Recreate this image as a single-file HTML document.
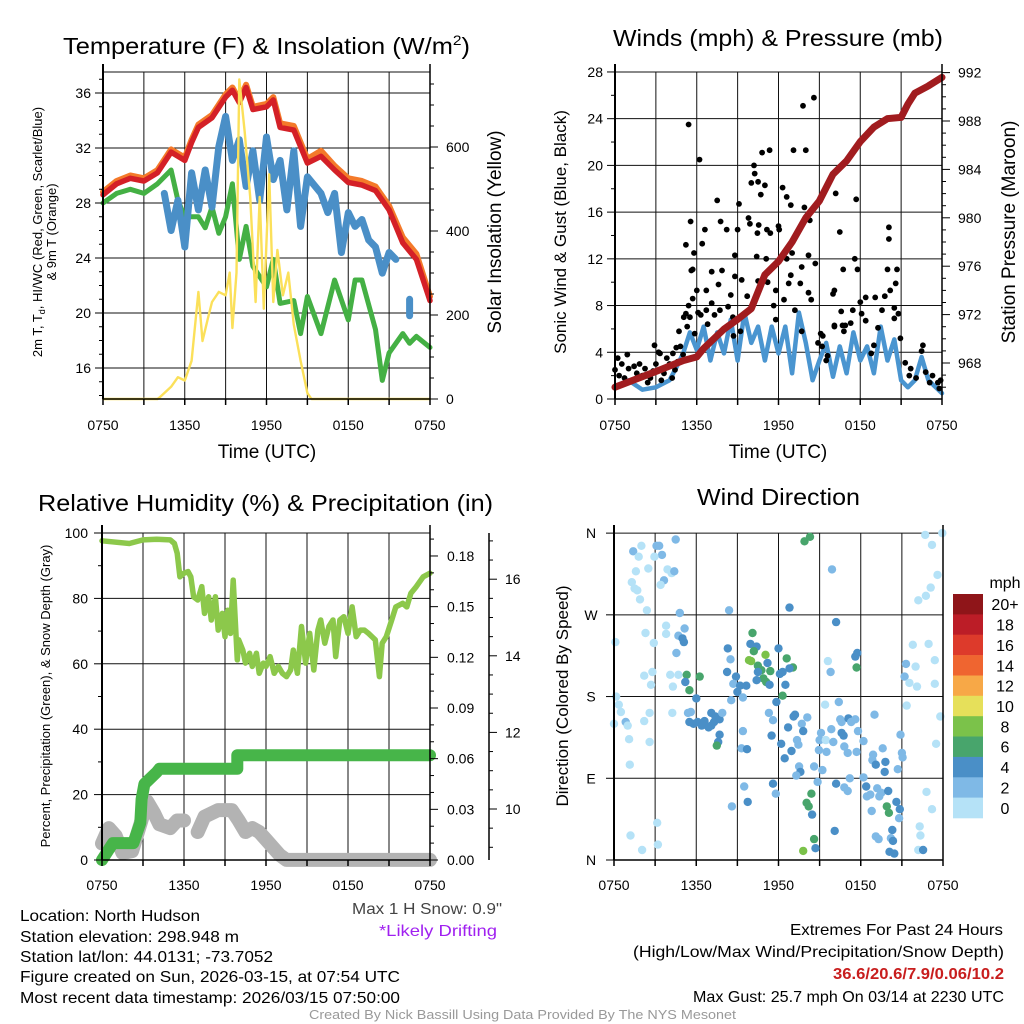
<!DOCTYPE html>
<html><head><meta charset="utf-8"><title>Mesonet Station Meteogram</title>
<style>
html,body{margin:0;padding:0;background:#fff;}
svg{display:block;font-family:"Liberation Sans Narrow","Liberation Sans",sans-serif;}
</style></head>
<body>
<svg id="chart" width="1024" height="1024" viewBox="0 0 1024 1024" xmlns="http://www.w3.org/2000/svg">
<rect width="1024" height="1024" fill="#fff"/>
<g id="g1"></g>
<g id="g2"></g>
<g id="g3"></g>
<g id="g4"></g>
<g id="gt">
<text x="63" y="54" font-size="23" textLength="407" lengthAdjust="spacingAndGlyphs">Temperature (F) &amp; Insolation (W/m<tspan font-size="14" dy="-9">2</tspan><tspan dy="9">)</tspan></text>
<text x="613" y="46" font-size="23" textLength="330" lengthAdjust="spacingAndGlyphs">Winds (mph) &amp; Pressure (mb)</text>
<text x="38" y="511" font-size="23" textLength="455" lengthAdjust="spacingAndGlyphs">Relative Humidity (%) &amp; Precipitation (in)</text>
<text x="697" y="505" font-size="23" textLength="163" lengthAdjust="spacingAndGlyphs">Wind Direction</text>
<text x="20" y="921" font-size="16" textLength="180" lengthAdjust="spacingAndGlyphs">Location: North Hudson</text>
<text x="20" y="942" font-size="16" textLength="219" lengthAdjust="spacingAndGlyphs">Station elevation: 298.948 m</text>
<text x="20" y="962" font-size="16" textLength="253" lengthAdjust="spacingAndGlyphs">Station lat/lon: 44.0131; -73.7052</text>
<text x="20" y="982" font-size="16" textLength="380" lengthAdjust="spacingAndGlyphs">Figure created on Sun, 2026-03-15, at 07:54 UTC</text>
<text x="20" y="1003" font-size="16" textLength="380" lengthAdjust="spacingAndGlyphs">Most recent data timestamp: 2026/03/15 07:50:00</text>
<text x="352" y="914" font-size="16" fill="#444" textLength="150" lengthAdjust="spacingAndGlyphs">Max 1 H Snow: 0.9"</text>
<text x="379" y="936" font-size="16" fill="#a020f0" textLength="118" lengthAdjust="spacingAndGlyphs">*Likely Drifting</text>
<text x="790" y="935" font-size="16" textLength="213" lengthAdjust="spacingAndGlyphs">Extremes For Past 24 Hours</text>
<text x="633" y="957" font-size="16" textLength="371" lengthAdjust="spacingAndGlyphs">(High/Low/Max Wind/Precipitation/Snow Depth)</text>
<text x="833" y="979" font-size="16" font-weight="bold" fill="#c81e1e" textLength="171" lengthAdjust="spacingAndGlyphs">36.6/20.6/7.9/0.06/10.2</text>
<text x="693" y="1002" font-size="16" textLength="311" lengthAdjust="spacingAndGlyphs">Max Gust: 25.7 mph On 03/14 at 2230 UTC</text>
<text x="309" y="1019" font-size="13" fill="#999" textLength="427" lengthAdjust="spacingAndGlyphs">Created By Nick Bassill Using Data Provided By The NYS Mesonet</text>
</g>
</svg>
<script>
// ---------- DATA ----------
const xTickLabels = ["0750","1350","1950","0150","0750"];
// Temperature panel (hours since 0750)
const tempHours = [0,1,2,3,4,5,6,6.5,7,8,9,9.5,10,10.5,11,12,12.5,13,14,15,16,17,18,19,20,21,22,23,24];
const tempRed   = [28.6,29.4,29.8,29.6,30.2,31.7,31.1,32.4,33.5,34.2,35.7,36.2,35.3,36.4,34.8,35.0,35.5,33.5,33.3,30.9,31.4,30.4,29.5,29.3,28.9,27.5,25.1,23.9,20.9];
const temp9m    = [28.8,29.6,30.0,29.8,30.4,31.9,31.3,32.6,33.7,34.4,35.9,36.4,35.5,36.6,35.0,35.2,35.7,33.8,33.6,31.2,31.8,30.7,29.8,29.6,29.2,27.8,25.5,24.3,21.2];
const dewHours  = [0,1,2,3,4,5,5.5,6,7,7.5,8,8.5,9,9.5,10,10.5,11,12,12.5,13,14,14.5,15,16,17,18,18.5,19,20,20.5,21,22,22.5,23,24];
const dewVals   = [28.0,28.7,29.0,28.7,29.4,30.4,28.2,27.0,27.0,26.2,27.7,25.8,27.0,29.4,23.9,26.3,23.4,21.9,23.9,20.7,20.9,18.5,21.2,18.5,22.4,19.5,22.4,22.4,18.8,15.1,17.1,18.5,17.8,18.3,17.5];
const wcHours   = [4.5,5,5.5,6,6.5,7,7.5,8,8.5,9,9.5,10,10.5,11,11.5,12,12.5,13,13.5,14,14.5,15,16,16.5,17,17.5,18,18.5,19,19.5,20,20.5,21,21.5];
const wcVals    = [28.7,26.0,28.2,24.8,30.2,27.5,30.4,27.7,32.1,34.3,31.1,32.6,29.2,31.8,28.2,32.8,29.7,31.1,27.5,31.8,26.3,29.9,28.7,27.3,28.7,24.4,27.3,26.3,26.8,25.3,24.8,22.9,24.4,23.9];
const wc2Hours  = [22.5,22.5];
const wc2Vals   = [21.0,19.8];
const solarHours= [0,4,4.2,5,5.5,6,6.5,7,7.3,7.7,8,8.5,9,9.3,9.5,9.8,10,10.4,10.8,11.2,11.5,11.8,12.2,12.5,12.8,13.2,13.6,14,14.5,15,15.3,24];
const solarVals = [0,0,5,29,52,44,91,255,138,192,231,255,247,301,169,301,761,636,481,231,481,215,535,231,355,247,301,177,91,14,0,0];
// Wind panel
const windHours = [0,1,2,3,4,4.5,5,5.5,6,6.5,7,7.5,8,8.5,9,9.5,10,10.5,11,11.5,12,12.5,13,13.5,14,14.5,15,15.5,16,16.5,17,17.5,18,18.5,19,19.5,20,20.5,21,21.5,22,22.5,23,24];
const windVals  = [1.0,1.6,0.8,1.0,1.6,2.7,3.9,5.7,4.2,6.2,3.3,5.7,3.9,6.8,3.3,7.4,4.8,6.2,3.3,6.2,3.9,6.2,2.2,7.4,4.8,1.6,3.3,4.8,1.9,4.5,2.2,5.7,3.3,4.5,2.2,6.2,3.3,5.1,1.6,1.0,1.6,3.6,1.6,0.5];
const presHours = [0,3,5,6,6.5,8,9,10,11,12,13,14,15,16,17,18,19,20,21,21.5,22,23,24];
const presVals  = [966.0,967.3,968.2,968.5,969.2,970.8,971.6,972.5,975.3,976.4,978.0,980.0,981.4,983.6,984.7,986.3,987.5,988.2,988.3,989.4,990.3,990.9,991.6];
const gustHours = [0,0.2,0.3,0.5,0.7,0.9,1,1.2,1.4,1.6,1.8,2,2.2,2.4,2.6,2.8,3,3.2,3.4,3.6,3.8,4,4.2,4.4,4.6,4.8,5,5.2,5.3,5.5,5.4,5.6,5.7,5.4,6.2,5.55,5.7,5.2,5.8,6.4,6.6,6.0,6.7,7.1,7.1,7.5,7.75,7.85,7.6,8.2,8.5,8.8,9.1,9.0,8.8,9.3,9.7,9.8,9.9,10.2,10.25,10.0,10.5,11.0,10.7,10.8,11.35,10.45,10.55,10.5,10.4,11.15,11.4,11.1,11.2,11.8,12.3,12.6,12.9,12.0,12.05,12.6,13.0,12.9,12.75,12.4,13.1,13.8,14.0,14.6,13.9,14.3,14.2,13.7,13.6,14.2,14.4,14.7,11.65,11.8,13.2,15.1,15.2,15.5,15.6,16.0,16.1,16.2,16.5,16.75,16.6,16.7,16.1,16.9,17.3,17.45,17.6,17.8,17.7,18.0,18.4,18.1,18.4,18.8,19.0,19.3,19.6,19.1,19.8,20.0,20.1,20.1,20.2,20.7,20.6,20.5,20.8,20.95,20.5,21.3,21.7,22.1,22.6,22.5,22.8,23.3,23.7,23.9,23.1,21.6,23.8,14.9,15.25,16.8,16.1,13.7,8.7,9.2,4.25,4.5,4.7,5.05,2.9,3.3,4.0,6.3,6.7,6.1,7.3,7.7,8.3,8.65,5.85,6.8];
const gustVals  = [2.5,3.5,2.0,3.0,1.8,3.8,2.6,1.5,2.8,2.2,3.0,2.0,2.6,1.4,1.8,2.4,3.0,4.0,1.6,2.2,3.5,2.8,1.8,2.5,3.2,4.5,3.8,7.3,6.2,7.0,8.0,11.0,8.6,23.5,20.5,15.2,11.1,13.2,12.5,13.3,14.5,9.3,9.3,8.2,10.9,17.0,15.2,11.0,9.8,14.5,8.9,12.3,16.7,14.5,10.5,10.2,8.8,15.5,15.0,20.0,19.3,18.5,18.6,18.3,17.5,21.1,21.3,14.2,14.9,10.1,12.2,14.5,14.2,12.0,10.0,9.3,18.1,17.3,16.6,14.8,14.5,12.0,12.5,10.6,9.9,8.5,21.3,25.1,21.3,25.8,16.4,15.3,12.3,11.3,9.9,9.1,8.5,11.6,8.0,6.8,7.6,5.6,4.5,3.3,3.7,9.0,9.3,17.6,14.3,11.1,7.5,6.3,6.3,6.3,6.5,7.6,12.0,11.1,17.1,8.3,8.7,7.3,6.7,3.9,4.6,6.1,7.6,8.7,8.8,11.1,13.7,14.7,9.3,11.1,9.9,7.8,7.3,5.2,6.9,3.1,2.6,1.8,4.6,4.1,2.3,2.0,1.4,1.6,1.4,2.0,0.9,4.8,5.4,5.8,6.2,5.8,5.4,5.8,3.9,4.4,5.8,7.0,4.6,3.9,3.0,7.2,7.6,7.4,7.2,7.6,7.9,7.0,5.6,6.4];
// Humidity panel
const rhHours = [0,2,3,4,5,5.3,5.5,5.7,6,6.3,6.5,6.7,7,7.3,7.5,7.8,8,8.3,8.5,8.8,9,9.2,9.4,9.6,9.9,10,10.3,10.5,10.8,11,11.3,11.5,11.8,12,12.3,12.6,12.9,13.2,13.5,13.8,14,14.3,14.6,14.9,15.2,15.5,15.8,16,16.3,16.6,16.9,17.1,17.4,17.7,18,18.3,18.6,18.9,19.2,19.5,20,20.3,20.5,20.8,21.2,21.5,22,22.3,22.6,23,23.5,24];
const rhVals  = [97.6,96.8,97.9,98.1,97.9,96.8,93.8,86.6,87.7,88.2,86.6,80.5,79.5,83.6,75.4,80.5,73.4,80.5,70.3,75.4,68.3,76.4,69.3,85.6,61.2,67.3,64.2,60.2,63.2,59.2,63.2,57.1,60.2,59.2,62.2,57.1,59.2,57.1,56.1,58.1,64.2,57.1,71.4,60.2,69.3,58.1,70.3,73.4,66.3,71.4,73.4,62.2,73.4,74.4,69.3,77.4,68.3,70.3,70.3,69.3,67.3,56.1,66.3,68.3,73.4,77.4,78.5,77.4,81.6,83.6,86.6,87.7];
const precipHours = [0,0.8,2.3,2.8,2.9,3.1,4.0,4.2,9.9,9.9,24];
const precipVals  = [0,0.01,0.01,0.022,0.036,0.045,0.052,0.054,0.054,0.062,0.062];
const snowHoursA = [0,0.5,1,1.5,2.2,2.8,3.3,3.8,4.2,5,5.5,6];
const snowValsA  = [9.1,9.5,9.3,8.85,8.9,9.6,10.2,9.9,9.6,9.5,9.7,9.7];
const snowHoursB = [7,7.5,8.5,9.5,10,10.5,11,11.5,12,12.5,13,13.5,24];
const snowValsB  = [9.4,9.8,9.97,9.97,9.7,9.4,9.5,9.4,9.2,9.0,8.8,8.67,8.67];
// Wind direction panel: hour, direction (deg), speed (mph)
const dirHours = [
4.5,2.0,1.4,1.8,3.1,3.3,3.5,2.95,2.5,1.6,
3.9,4.2,4.4,3.65,3.4,1.3,1.5,1.7,1.9,2.4,
4.8,8.4,12.8,16.2,13.9,14.3,15.9,22.7,23.95,23.2,
23.6,23.1,22.75,22.2,0.1,2.3,2.9,3.8,3.8,4.7,
5.0,5.1,5.15,4.55,2.2,2.8,2.7,4.1,4.7,4.3,
5.3,6.25,5.5,5.2,6.0,8.3,8.5,8.25,8.9,8.7,
9.2,9.0,9.4,8.55,9.65,10.1,9.95,10.4,10.2,10.0,
9.85,11.05,10.5,10.75,10.5,11.2,11.4,10.9,11.1,10.4,
11.35,12.0,12.6,13.05,12.8,12.3,12.1,12.5,12.3,11.85,
15.6,15.8,17.7,17.6,17.75,21.3,21.8,22.0,21.2,21.55,
22.1,22.95,23.4,23.4,21.35,23.8,23.5,0.15,0.35,0.5,
0.85,1.0,0.0,1.1,2.2,2.6,2.6,1.15,4.25,5.4,
5.6,5.5,5.8,6.1,6.4,6.6,6.9,7.1,7.3,7.1,
7.4,7.7,7.9,7.7,7.6,7.5,9.4,9.3,9.7,11.3,
11.6,11.5,12.2,12.45,12.95,12.7,13.1,13.2,13.7,14.1,
13.8,13.35,13.45,13.5,13.6,13.3,14.6,14.85,15.1,15.0,
14.95,15.5,15.2,15.45,15.85,16.0,16.4,15.4,16.5,16.6,
16.6,16.75,16.8,17.1,17.3,17.6,17.05,17.7,17.8,18.2,
19.0,18.9,18.85,19.1,19.6,19.8,19.75,20.9,21.0,21.05,
20.7,17.2,18.2,16.2,16.8,17.05,18.4,19.2,18.45,18.7,
19.35,19.5,20.0,20.6,20.85,19.9,20.05,20.8,18.8,14.4,
14.05,14.2,14.45,11.6,11.8,9.5,9.75,8.6,3.15,3.2,
1.2,2.05,16.1,14.6,13.8,14.7,19.1,19.3,20.3,20.2,
20.35,20.1,20.45,22.3,22.35,22.8,23.2,22.2,22.55];
const dirDegs = [
353,346,340,334,346,346,336,334,321,318,
320,316,318,308,303,306,299,297,287,275,
272,275,278,262,351,356,320,358,360,347,
314,300,291,286,240,250,239,258,249,247,
244,240,255,228,203,207,193,204,204,191,
204,202,187,196,178,233,221,207,202,194,
192,185,179,176,192,250,238,235,230,219,
220,226,214,209,207,217,208,200,196,198,
193,233,222,212,211,207,205,193,181,174,
219,207,212,224,228,216,237,213,202,195,
191,238,220,194,170,158,128,180,171,163,
152,148,150,133,153,162,130,105,162,162,
163,152,150,152,148,153,146,148,152,162,
158,155,162,138,130,126,142,123,122,162,
154,137,128,112,120,146,158,160,150,157,
142,132,127,103,97,93,103,86,140,132,
121,119,99,132,144,130,174,171,155,152,
140,137,125,156,152,155,118,119,142,131,
160,116,110,105,123,108,97,138,118,113,
100,90,91,84,80,76,81,79,70,72,
70,74,76,64,56,59,52,46,54,73,
63,59,50,84,73,81,64,59,41,17,
27,11,32,23,10,13,26,23,33,24,
21,9,7,37,27,75,56,11,11];
const dirSpeed = [
3,1,3,1,3,3,3,1,1,1,
1,1,3,3,1,1,1,1,1,1,
3,3,5,5,7,7,3,1,1,1,
1,1,1,1,1,1,1,1,1,3,
5,5,3,3,1,1,1,1,1,1,
7,7,7,5,5,5,3,5,5,3,
5,5,3,3,5,7,5,5,7,9,
9,9,7,7,5,5,7,7,7,5,
5,5,7,7,5,5,5,5,7,5,
1,3,7,5,5,3,1,1,3,1,
1,1,1,1,1,1,1,1,1,1,
3,1,1,1,1,1,1,1,1,3,
3,5,5,5,5,5,5,5,5,5,
5,5,3,5,5,7,3,3,5,3,
3,5,5,5,5,5,5,5,3,3,
5,3,3,3,5,3,3,3,3,3,
3,3,3,1,3,3,3,1,3,3,
5,5,3,5,3,3,3,3,3,3,
3,3,3,5,3,5,5,3,3,3,
3,3,3,5,3,3,5,3,3,3,
3,3,5,5,5,7,7,3,3,7,
7,7,5,5,3,3,5,3,1,1,
1,1,5,7,9,5,3,3,5,3,
5,5,5,1,1,1,1,1,5];
const speedBins = ["0","2","4","6","8","10","12","14","16","18","20+"];
const speedColors = ["#b5e2f7","#7fb9e6","#4a8fc7","#48a56c","#7bc24a","#e6e05a","#f7a847","#ef6530","#dd3a2b","#bc1d27","#8f1519"];

// ---------- HELPERS ----------
const NS="http://www.w3.org/2000/svg";
function mk(parent,tag,attrs){const e=document.createElementNS(NS,tag);for(const k in attrs)e.setAttribute(k,attrs[k]);parent.appendChild(e);return e;}
function txt(parent,x,y,s,size,anchor,extra){const e=mk(parent,"text",Object.assign({x:x,y:y,"font-size":size,"text-anchor":anchor||"start"},extra||{}));e.textContent=s;return e;}
function path(parent,xs,ys,fx,fy,color,w){let d="";const n=Math.min(xs.length,ys.length);for(let i=0;i<n;i++){d+=(i?"L":"M")+fx(xs[i]).toFixed(1)+","+fy(ys[i]).toFixed(1);}return mk(parent,"path",{d:d,fill:"none",stroke:color,"stroke-width":w,"stroke-linejoin":"round","stroke-linecap":"round"});}
function grid(g,L,R,T,B,vx,hy){
  for(const x of vx){const l=mk(g,"line",{x1:x,x2:x,y1:T,y2:B,stroke:"#111","stroke-width":1});}
  for(const y of hy){const l=mk(g,"line",{x1:L,x2:R,y1:y,y2:y,stroke:"#111","stroke-width":1});}
}
function xTicks(g,L,R,B,labelY){
  for(let i=0;i<=8;i++){const x=L+(R-L)*i/8;mk(g,"line",{x1:x,x2:x,y1:B,y2:B+6,stroke:"#000","stroke-width":1.5});}
  xTickLabels.forEach((s,i)=>{const t=txt(g,L+(R-L)*i/4,labelY,s,14,"middle");});
}

// ---------- PANEL 1 ----------
(function(){
const g=document.getElementById("g1");
const L=103,R=430,T=72,B=399;
const fx=h=>L+h*(R-L)/24;
const fy=t=>93+(36-t)*13.75;
const fs=s=>399-s*0.42;
const vx=[],hy=[];for(let i=1;i<8;i++)vx.push(L+(R-L)*i/8);
for(let t=16;t<=36;t+=4)hy.push(fy(t));
grid(g,L,R,T,B,vx,hy);
mk(g,"line",{x1:L,x2:R,y1:T,y2:T,stroke:"#111","stroke-width":1});
let p;
p=path(g,tempHours,temp9m,fx,fy,"#f47a2a",6);
p=path(g,tempHours,tempRed,fx,fy,"#d42027",5.5);
p=path(g,dewHours,dewVals,fx,fy,"#44b044",5);
p=path(g,wcHours,wcVals,fx,fy,"#4a8fc7",7);
p=path(g,wc2Hours,wc2Vals,fx,fy,"#4a8fc7",7);
p=path(g,solarHours,solarVals,fx,fs,"#fbe05a",2.4);
mk(g,"line",{x1:L,x2:L,y1:T-8,y2:B,stroke:"#000","stroke-width":2});
mk(g,"line",{x1:R,x2:R,y1:T-8,y2:B,stroke:"#000","stroke-width":1.5});
mk(g,"line",{x1:L,x2:R,y1:B,y2:B,stroke:"#000","stroke-width":1.5});
for(let t=14;t<=37;t++){const y=fy(t);if(y<T||y>B)continue;const major=(t%4===0);mk(g,"line",{x1:L-(major?8:4),x2:L,y1:y,y2:y,stroke:"#000","stroke-width":1});if(major){const e=txt(g,L-12,y+5,String(t),14,"end");}}
for(let s=0;s<=750;s+=50){const y=fs(s);if(y<T)continue;const major=(s%200===0);mk(g,"line",{x1:R,x2:R+(major?8:4),y1:y,y2:y,stroke:"#000","stroke-width":1});if(major){const e=txt(g,R+16,y+5,String(s),14,"start");}}
xTicks(g,L,R,B,430);
let e=txt(g,267,458,"Time (UTC)",19,"middle");
e=txt(g,0,0,"Solar Insolation (Yellow)",19,"middle",{transform:"translate(501,232) rotate(-90)"});
e=mk(g,"text",{"font-size":13,"text-anchor":"middle",transform:"translate(42,232) rotate(-90)"});e.innerHTML='2m T, T<tspan font-size="9" dy="3">d</tspan><tspan dy="-3">, HI/WC (Red, Green, Scarlet/Blue)</tspan>';
e=txt(g,0,0,"& 9m T (Orange)",13,"middle",{transform:"translate(56,232) rotate(-90)"});
})();

// ---------- PANEL 2 ----------
(function(){
const g=document.getElementById("g2");
const L=615,R=942,T=72,B=399;
const fx=h=>L+h*(R-L)/24;
const fy=w=>399-w*11.68;
const fp=p=>363-(p-968)*12.1;
const vx=[],hy=[];for(let i=1;i<8;i++)vx.push(L+(R-L)*i/8);
for(let w=4;w<=28;w+=4)hy.push(fy(w));
grid(g,L,R,T,B,vx,hy);
let p=path(g,windHours,windVals,fx,fy,"#4a95d0",4.5);
const ng=Math.min(gustHours.length,gustVals.length);
for(let i=0;i<ng;i++){const c=mk(g,"circle",{cx:fx(gustHours[i]).toFixed(1),cy:fy(gustVals[i]).toFixed(1),r:2.9,fill:"#000"});

}
p=path(g,presHours,presVals,fx,fp,"#a11c1f",7);
mk(g,"line",{x1:L,x2:L,y1:T-8,y2:B,stroke:"#000","stroke-width":2});
mk(g,"line",{x1:R,x2:R,y1:T-8,y2:B,stroke:"#000","stroke-width":1.5});
mk(g,"line",{x1:L,x2:R,y1:B,y2:B,stroke:"#000","stroke-width":1.5});
for(let w=0;w<=28;w+=2){const y=fy(w);const major=w%4===0;mk(g,"line",{x1:L-(major?8:4),x2:L,y1:y,y2:y,stroke:"#000","stroke-width":1});if(major){const e=txt(g,L-12,y+5,String(w),14,"end");}}
for(let q=966;q<=992;q++){const y=fp(q);if(y>B||y<T-1)continue;const major=q%4===0;mk(g,"line",{x1:R,x2:R+(major?8:4),y1:y,y2:y,stroke:"#000","stroke-width":1});if(major){const e=txt(g,R+16,y+5,String(q),14,"start");}}
xTicks(g,L,R,B,430);
let e=txt(g,778,458,"Time (UTC)",19,"middle");
e=txt(g,0,0,"Sonic Wind & Gust (Blue, Black)",17,"middle",{transform:"translate(566,232) rotate(-90)"});
e=txt(g,0,0,"Station Pressure (Maroon)",19,"middle",{transform:"translate(1015,232) rotate(-90)"});
})();

// ---------- PANEL 3 ----------
(function(){
const g=document.getElementById("g3");
const L=102,R=430,T=533,B=860;
const fx=h=>L+h*(R-L)/24;
const fy=r=>860-r*3.27;
const fpr=p=>860-p*1689;
const fsn=s=>809-(s-10)*38.3;
const vx=[],hy=[];for(let i=1;i<8;i++)vx.push(L+(R-L)*i/8);
for(let r=20;r<=80;r+=20)hy.push(fy(r));
grid(g,L,R,T,B,vx,hy);
mk(g,"line",{x1:L,x2:R,y1:T,y2:T,stroke:"#111","stroke-width":1});
let p=path(g,rhHours,rhVals,fx,fy,"#8cc84b",5.5);
p=path(g,snowHoursA,snowValsA,fx,fsn,"#b3b3b3",14);
p=path(g,snowHoursB,snowValsB,fx,fsn,"#b3b3b3",14);
p=path(g,precipHours,precipVals,fx,fpr,"#47b549",12);
mk(g,"line",{x1:L,x2:L,y1:T-8,y2:B,stroke:"#000","stroke-width":2});
mk(g,"line",{x1:R,x2:R,y1:T-8,y2:B,stroke:"#000","stroke-width":1.5});
mk(g,"line",{x1:L,x2:R,y1:B,y2:B,stroke:"#000","stroke-width":1.5});
for(let r=0;r<=100;r+=10){const y=fy(r);const major=r%20===0;mk(g,"line",{x1:L-(major?8:4),x2:L,y1:y,y2:y,stroke:"#000","stroke-width":1});if(major){const e=txt(g,L-14,y+5,String(r),14,"end");}}
for(let k=0;k<=19;k++){const v=k*0.01;const y=fpr(v);if(y<T)continue;const major=k%3===0;mk(g,"line",{x1:R,x2:R+(major?8:4),y1:y,y2:y,stroke:"#000","stroke-width":1});if(major){const e=txt(g,R+17,y+5,v.toFixed(2),14,"start");}}
const SX=489;mk(g,"line",{x1:SX,x2:SX,y1:T,y2:B,stroke:"#000","stroke-width":1.5});
for(let k=18;k<=34;k++){const s=k/2;const y=fsn(s);if(y<T||y>B)continue;const major=(k%4===0);mk(g,"line",{x1:SX,x2:SX+(major?8:4),y1:y,y2:y,stroke:"#000","stroke-width":1});if(major){const e=txt(g,SX+16,y+5,String(s),14,"start");}}
xTicks(g,L,R,B,890);
let e=txt(g,0,0,"Percent, Precipitation (Green), & Snow Depth (Gray)",13,"middle",{transform:"translate(50,696) rotate(-90)"});
})();

// ---------- PANEL 4 ----------
(function(){
const g=document.getElementById("g4");
const L=614,R=943,T=533,B=860;
const fx=h=>L+h*(R-L)/24;
const fy=d=>860-d*0.908;
const vx=[],hy=[];for(let i=1;i<8;i++)vx.push(L+(R-L)*i/8);
for(let d=0;d<=360;d+=90)hy.push(fy(d));
grid(g,L,R,T,B,vx,hy);
const binOf=s=>Math.min(10,Math.floor(s/2));
const nd=Math.min(dirHours.length,dirDegs.length,dirSpeed.length);
for(let i=0;i<nd;i++){const c=mk(g,"circle",{cx:fx(dirHours[i]).toFixed(1),cy:fy(dirDegs[i]).toFixed(1),r:4.2,fill:speedColors[binOf(dirSpeed[i])]});

}
mk(g,"line",{x1:L,x2:L,y1:T-8,y2:B,stroke:"#000","stroke-width":2});
mk(g,"line",{x1:R,x2:R,y1:T-8,y2:B,stroke:"#000","stroke-width":1.5});
mk(g,"line",{x1:L,x2:R,y1:B,y2:B,stroke:"#000","stroke-width":1.5});
["N","E","S","W","N"].forEach((s,i)=>{const y=fy(i*90);mk(g,"line",{x1:L-8,x2:L,y1:y,y2:y,stroke:"#000","stroke-width":1});const e=txt(g,591,y+5,s,14,"middle");});
xTicks(g,L,R,B,890);
let e=txt(g,0,0,"Direction (Colored By Speed)",17,"middle",{transform:"translate(568,696) rotate(-90)"});
const lg=mk(g,"g",{});
const bt=594,bh=(818-594)/11;
for(let i=0;i<11;i++){const k=10-i;const r=mk(lg,"rect",{x:953,y:(bt+i*bh).toFixed(1),width:30,height:(bh+0.3).toFixed(1),fill:speedColors[k]});


const t=txt(lg,1005,bt+i*bh+bh/2+6,speedBins[k],16,"middle");

}
e=txt(lg,1005,588,"mph",16,"middle");
})();
</script>
</body></html>
